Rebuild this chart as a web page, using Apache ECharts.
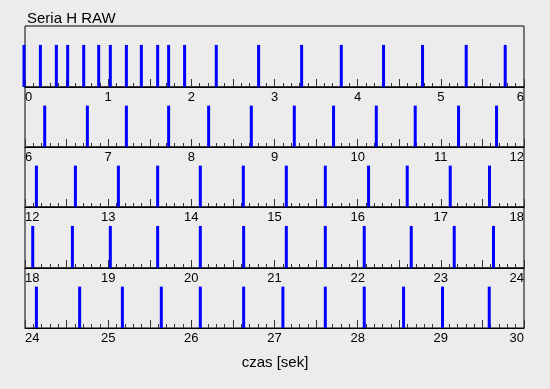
<!DOCTYPE html>
<html>
<head>
<meta charset="utf-8">
<script src="https://cdn.jsdelivr.net/npm/echarts@6/dist/echarts.min.js"></script>
<style>
html,body{margin:0;padding:0;background:#ececec;}
#chart{width:550px;height:389px;}
</style>
</head>
<body>
<div id="chart"></div>
<script>
// Spike times [s]
const spikeTimes = [
  -0.012, 0.185, 0.377, 0.513, 0.706, 0.886, 1.026, 1.219, 1.399, 1.595, 1.727, 1.919, 2.300, 2.809, 3.326, 3.803, 4.311, 4.780, 5.305, 5.774,
  6.237, 6.750, 7.219, 7.727, 8.208, 8.721, 9.238, 9.710, 10.224, 10.692, 11.213, 11.670,
  12.137, 12.606, 13.123, 13.595, 14.108, 14.625, 15.142, 15.611, 16.131, 16.596, 17.113, 17.585,
  18.093, 18.570, 19.026, 19.595, 20.108, 20.629, 21.142, 21.611, 22.079, 22.644, 23.161, 23.633,
  24.137, 24.657, 25.171, 25.639, 26.108, 26.629, 27.101, 27.611, 28.079, 28.552, 29.020, 29.582
];
const spikeLevel = 1;
const rowStarts = [0, 6, 12, 18, 24];
const rowSpan = 6;
const titleText = 'Seria H RAW';
const axisTitle = 'czas [sek]';

const FONT = '"Liberation Sans", Arial, sans-serif';
const rowTops = [26, 87, 147, 207, 268];
const rowHeights = [61, 60, 60, 61, 60];

const grids = [], xAxes = [], yAxes = [], series = [];
rowStarts.forEach((start, i) => {
  grids.push({left: 25, right: 26, top: rowTops[i], height: rowHeights[i], show: true,
    borderColor: '#000', borderWidth: 1, backgroundColor: 'transparent'});
  xAxes.push({
    gridIndex: i, type: 'value', min: start, max: start + rowSpan, interval: 0.5,
    axisLine: {show: true, lineStyle: {color: '#000', width: 1}},
    axisTick: {show: true, inside: true, length: 8, lineStyle: {color: '#333', width: 1}},
    minorTick: {show: true, splitNumber: 5, length: 4, lineStyle: {color: '#333', width: 1}},
    splitLine: {show: false},
    axisLabel: {
      show: true, margin: 4, color: '#000', fontFamily: FONT, fontSize: 13,
      alignMinLabel: 'left', alignMaxLabel: 'right',
      formatter: v => Number.isInteger(v) ? String(v) : ''
    }
  });
  yAxes.push({gridIndex: i, type: 'value', min: 0, max: 1.45, show: false});
  const pts = spikeTimes
    .filter(t => Math.min(rowStarts.length - 1, Math.max(0, Math.floor(t / rowSpan))) === i)
    .map(t => [t, spikeLevel]);
  series.push({
    type: 'bar', xAxisIndex: i, yAxisIndex: i, data: pts, barWidth: 3, clip: false,
    itemStyle: {color: '#0000ff'}, animation: false, silent: true
  });
});

const chart = echarts.init(document.getElementById('chart'), null, {renderer: 'canvas'});
chart.setOption({
  backgroundColor: '#ececec',
  animation: false,
  title: [
    {text: titleText, left: 27, top: 11, padding: 0, textStyle: {fontFamily: FONT, fontSize: 15, fontWeight: 'normal', color: '#000'}},
    {text: axisTitle, left: 'center', top: 355, padding: 0, textStyle: {fontFamily: FONT, fontSize: 15, fontWeight: 'normal', color: '#000'}}
  ],
  grid: grids, xAxis: xAxes, yAxis: yAxes, series: series
});
</script>
</body>
</html>
